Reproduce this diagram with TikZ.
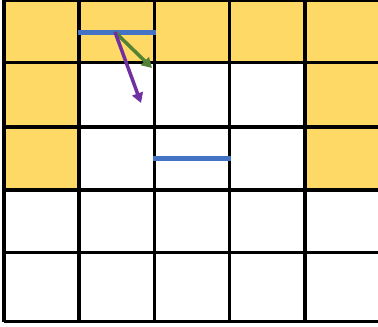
\documentclass[tikz,border=0pt]{standalone}
\usetikzlibrary{arrows.meta}
\definecolor{cellyellow}{HTML}{FFD966}
\definecolor{segblue}{HTML}{4472C4}
\definecolor{arrgreen}{HTML}{548235}
\definecolor{arrpurple}{HTML}{7030A0}
\tikzset{
  gridline/.style={line width=3.3pt, black},
  segment/.style={line width=5pt, segblue},
  vecarrow/.style={line width=3.5pt, -{Triangle[length=10pt,width=11pt]}},
}
\begin{document}
\begin{tikzpicture}[x=1pt,y=-1pt]
\useasboundingbox (0,0) rectangle (378,327);
\begin{scope}
\clip (0,0) rectangle (378,327);
% yellow cells
\fill[cellyellow] (4,0) rectangle (390,62.5);
\fill[cellyellow] (4,62.5) rectangle (79,190);
\fill[cellyellow] (305,62.5) rectangle (390,190);
% grid
\foreach \x in {4,79,154.5,229.5,305,382}
  \draw[gridline] (\x,-2) -- (\x,321.7);
\foreach \y in {0,62.5,127,190,252.7,321.7}
  \draw[gridline] (4,\y) -- (390,\y);
% blue segments
\coordinate (s1a) at (78,32);
\coordinate (s1b) at (156,32);
\coordinate (s2a) at (153,158);
\coordinate (s2b) at (231,158);
\draw[segment] (s1a) -- (s1b);
\draw[segment] (s2a) -- (s2b);
% arrows
\coordinate (o) at (115,32);
\coordinate (g) at (152,68);
\coordinate (p) at (141,103);
\draw[vecarrow, arrgreen] (o) -- (g);
\draw[vecarrow, arrpurple] (o) -- (p);
\end{scope}
\end{tikzpicture}
\end{document}
